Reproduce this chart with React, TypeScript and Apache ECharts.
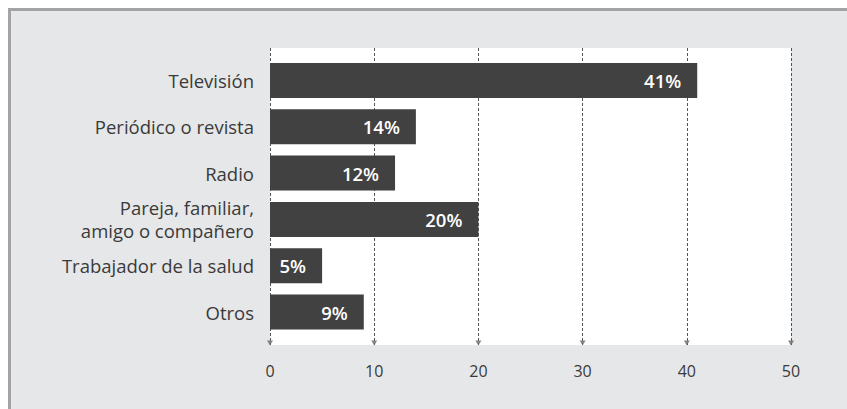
import React, { useEffect, useRef } from "react";
import * as echarts from "echarts";

const categories = [
  "Televisión",
  "Periódico o revista",
  "Radio",
  "Pareja, familiar,\namigo o compañero",
  "Trabajador de la salud",
  "Otros",
];
const values = [41, 14, 12, 20, 5, 9];
const tickValues = [0, 10, 20, 30, 40, 50];

const FONT = "'Open Sans', sans-serif";

export default function App() {
  const ref = useRef<HTMLDivElement>(null);
  useEffect(() => {
    if (!ref.current) return;
    const chart = echarts.init(ref.current, undefined, { renderer: "svg" });
    chart.setOption({
      animation: false,
      grid: [
        {
          left: 259,
          right: 56,
          top: 37,
          bottom: 64,
          show: true,
          backgroundColor: "#ffffff",
          borderWidth: 0,
        },
        { left: 259, right: 56, top: 46.3, bottom: 73.8 },
      ],
      xAxis: [
        {
          gridIndex: 0,
          type: "value",
          min: 0,
          max: 50,
          interval: 10,
          axisLine: { show: false },
          axisTick: { show: false },
          axisLabel: {
            margin: 18,
            color: "#3a3a3a",
            fontFamily: FONT,
            fontSize: 16,
          },
          splitLine: {
            show: true,
            lineStyle: { color: "#555", type: [3, 2], width: 1 },
          },
        },
        { gridIndex: 1, type: "value", min: 0, max: 50, show: false },
      ],
      yAxis: [
        { gridIndex: 0, type: "value", min: 0, max: 1, show: false },
        {
          gridIndex: 1,
          type: "category",
          data: categories,
          inverse: true,
          axisLine: { show: false },
          axisTick: { show: false },
          axisLabel: {
            margin: 16,
            color: "#3a3a3a",
            fontFamily: FONT,
            fontSize: 18.5,
            lineHeight: 23,
            align: "right",
          },
        },
      ],
      series: [
        {
          type: "scatter",
          xAxisIndex: 0,
          yAxisIndex: 0,
          data: tickValues.map((v) => [v, 0]),
          symbol: "triangle",
          symbolRotate: 180,
          symbolSize: [6, 5],
          symbolOffset: [0, -2],
          itemStyle: { color: "#666" },
          silent: true,
        },
        {
          type: "bar",
          xAxisIndex: 1,
          yAxisIndex: 1,
          data: values,
          barWidth: 35,
          itemStyle: { color: "#414141" },
          label: {
            show: true,
            position: "insideRight",
            distance: 16,
            color: "#fff",
            fontFamily: FONT,
            fontWeight: 600,
            fontSize: 18.5,
            formatter: (p: any) => p.value + "%",
          },
        },
      ],
    });
    return () => chart.dispose();
  }, []);
  return (
    <div
      style={{
        position: "fixed",
        left: 8,
        top: 8,
        width: 839,
        height: 401,
        boxSizing: "border-box",
        borderTop: "3px solid #a3a3a5",
        borderLeft: "3px solid #a3a3a5",
        background: "#e6e7e8",
      }}
    >
      <div ref={ref} style={{ width: 836, height: 398 }} />
    </div>
  );
}
